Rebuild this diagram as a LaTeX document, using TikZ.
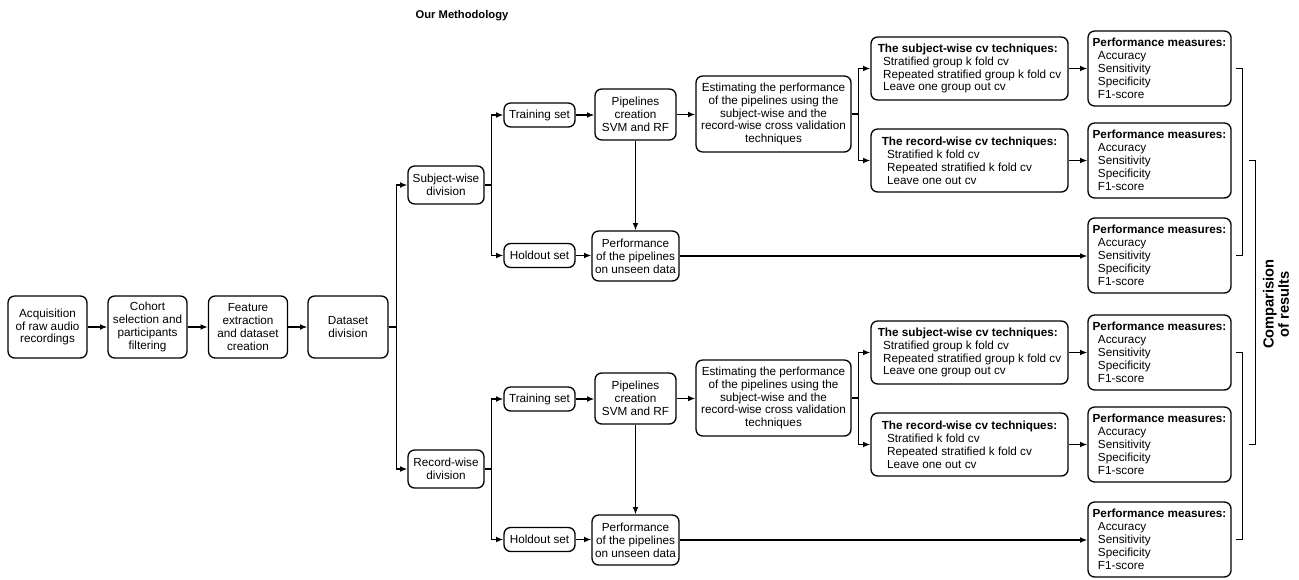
\documentclass[tikz,border=0pt]{standalone}
\usepackage{fontspec}
\setmainfont{Liberation Sans}
\usetikzlibrary{arrows.meta,calc}
\newcommand\fsz{\fontsize{8.8pt}{9.7pt}\selectfont}
\newcommand\ind{\hspace*{4pt}}
\begin{document}
\begin{tikzpicture}[x=0.75pt,y=-0.75pt,
  box/.style={draw, line width=1pt, rounded corners=5pt, align=center, inner sep=1pt, font=\fsz},
  lbox/.style={box, align=left},
  conn/.style={line width=1pt},
  arr/.style={conn, -{Latex[length=5.5pt,width=4.4pt]}},
  bigbox/.style={box, minimum width=59.25pt, minimum height=46.5pt},
  divbox/.style={box, minimum width=57pt, minimum height=28.5pt},
  setbox/.style={box, minimum width=53.25pt, minimum height=18pt},
  pipebox/.style={box, minimum width=60.75pt, minimum height=38.25pt},
  perfbox/.style={box, minimum width=65.25pt, minimum height=37.5pt},
  estbox/.style={box, minimum width=116.25pt, minimum height=57pt},
  cvbox/.style={lbox, minimum width=147.75pt, minimum height=47.25pt},
  pmbox/.style={lbox, minimum width=107.25pt, minimum height=56.25pt}]
\useasboundingbox (0,0) rectangle (1299,579);

\node[font=\bfseries\fontsize{8.4pt}{10pt}\selectfont] (title) at (462,16) {Our Methodology};

\node[bigbox] (acq) at (47.5,327) {Acquisition\\of raw audio\\recordings};
\node[bigbox] (coh) at (147.5,327) {Cohort\\selection and\\participants\\filtering};
\node[bigbox] (feat) at (248,327) {Feature\\extraction\\and dataset\\creation};
\node[bigbox, minimum width=60pt] (ds) at (348,327) {Dataset\\division};

\node[divbox] (sdiv) at (446,185) {Subject-wise\\division};
\node[divbox] (rdiv) at (446,469) {Record-wise\\division};

\foreach \s/\dy in {A/0,B/284}{
  \begin{scope}[shift={(0,\dy)}]
    \node[setbox] (train\s) at (539.5,115) {Training set};
    \node[setbox] (hold\s) at (539.5,255.5) {Holdout set};
    \node[pipebox] (pipe\s) at (635.5,114.5) {Pipelines\\creation\\SVM and RF};
    \node[perfbox] (perf\s) at (635.5,256) {Performance\\of the pipelines\\on unseen data};
    \node[estbox] (est\s) at (773.5,114) {Estimating the performance\\of the pipelines using the\\subject-wise and the\\record-wise cross validation\\techniques};
    \node[cvbox] (sub\s) at (969.5,68.5) {\textbf{The subject-wise cv techniques:}\\\ind Stratified group k fold cv\\\ind Repeated stratified group k fold cv\\\ind Leave one group out cv};
    \node[cvbox] (rec\s) at (969.5,160.5) {\textbf{The record-wise cv techniques:}\\\ind Stratified k fold cv\\\ind Repeated stratified k fold cv\\\ind Leave one out cv};
    \node[pmbox] (pma\s) at (1159.5,68.5) {\textbf{Performance measures:}\\\ind Accuracy\\\ind Sensitivity\\\ind Specificity\\\ind F1-score};
    \node[pmbox] (pmb\s) at (1159.5,160.5) {\textbf{Performance measures:}\\\ind Accuracy\\\ind Sensitivity\\\ind Specificity\\\ind F1-score};
    \node[pmbox] (pmc\s) at (1159.5,255.5) {\textbf{Performance measures:}\\\ind Accuracy\\\ind Sensitivity\\\ind Specificity\\\ind F1-score};
  \end{scope}
  \draw[arr] (train\s.east) -- (train\s.east -| pipe\s.west);
  \draw[arr] (hold\s.east) -- (hold\s.east -| perf\s.west);
  \draw[arr] (pipe\s) -- (perf\s);
  \draw[arr] (pipe\s.east) -- (pipe\s.east -| est\s.west);
  \draw[arr] (perf\s.east) -- (perf\s.east -| pmc\s.west);
  \draw[arr] (est\s.east) -- ++(7,0) |- (sub\s);
  \draw[arr] (est\s.east) -- ++(7,0) |- (rec\s);
  \draw[arr] (sub\s) -- (pma\s);
  \draw[arr] (rec\s) -- (pmb\s);
}

\draw[arr] (acq) -- (coh);
\draw[arr] (coh) -- (feat);
\draw[arr] (feat) -- (ds);
\draw[arr] (ds.east) -- ++(8,0) |- (sdiv);
\draw[arr] (ds.east) -- ++(8,0) |- (rdiv);
\draw[arr] (sdiv.east) -- ++(7,0) |- (trainA);
\draw[arr] (sdiv.east) -- ++(7,0) |- (holdA);
\draw[arr] (rdiv.east) -- ++(7,0) |- (trainB);
\draw[arr] (rdiv.east) -- ++(7,0) |- (holdB);

% brackets
\draw[conn] ($(pmaA.east)+(4,0)$) -- ++(7,0) |- ($(pmcA.east)+(4,0)$);
\draw[conn] ($(pmbA.east)+(17,0)$) -- ++(7,0) |- ($(pmbB.east)+(17,0)$);
\draw[conn] ($(pmaB.east)+(4,0)$) -- ++(7,0) |- ($(pmcB.east)+(4,0)$);

\node[rotate=90, align=center, font=\bfseries\fontsize{11pt}{11.4pt}\selectfont] (cmp) at (1276,304) {Comparision\\of results};
\end{tikzpicture}
\end{document}
